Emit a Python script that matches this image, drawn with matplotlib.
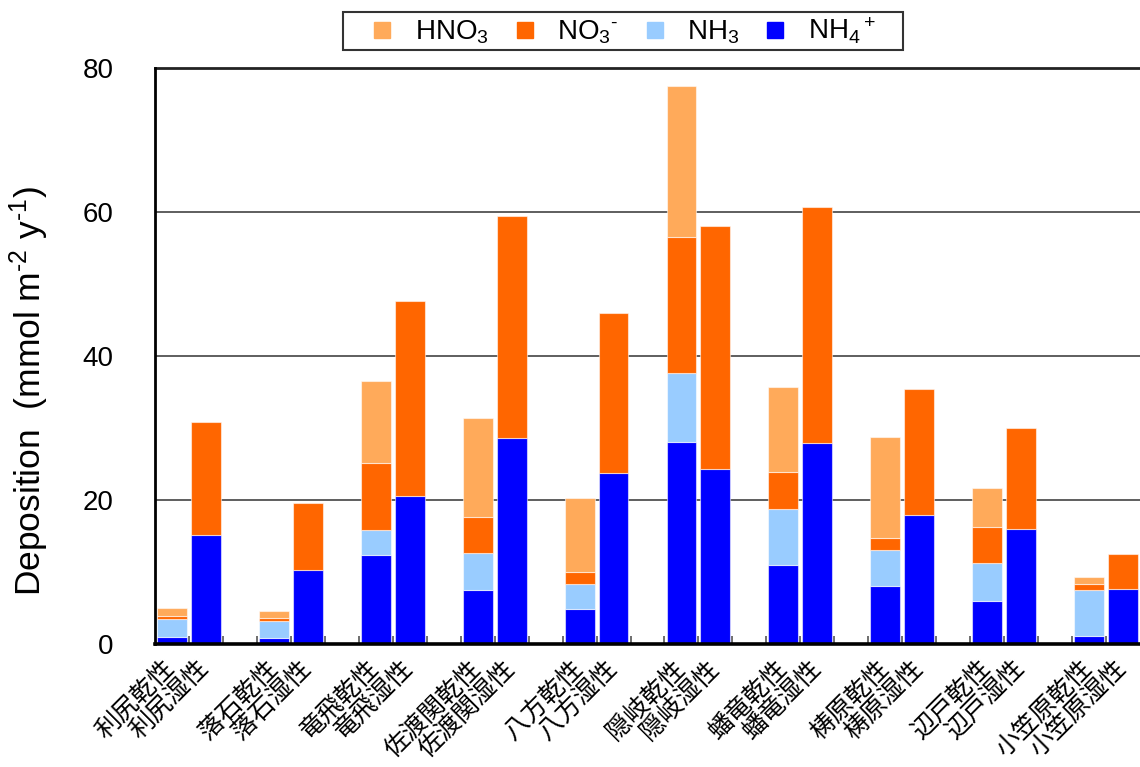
import numpy as np
import matplotlib
matplotlib.use("Agg")
import matplotlib.pyplot as plt
from matplotlib.lines import Line2D
from matplotlib.patches import Rectangle
from matplotlib.ticker import FixedLocator

plt.rcParams['font.family'] = ['Liberation Sans', 'DejaVu Sans']
plt.rcParams['mathtext.fontset'] = 'custom'
plt.rcParams['mathtext.rm'] = 'Liberation Sans'
plt.rcParams['mathtext.it'] = 'Liberation Sans:italic'
plt.rcParams['mathtext.bf'] = 'Liberation Sans:bold'

# Sites and annual deposition (mmol m-2 y-1)
sites = ['利尻', '落石', '竜飛', '佐渡関', '八方', '隠岐', '蟠竜', '梼原', '辺戸', '小笠原']

# dry deposition components
nh4_dry = [1.0, 0.9, 12.4, 7.45, 4.85, 28.0, 10.95, 8.1, 6.0, 1.15]
nh3_dry = [2.5, 2.35, 3.5, 5.15, 3.45, 9.6, 7.85, 4.95, 5.3, 6.35]
no3_dry = [0.4, 0.42, 9.25, 5.1, 1.65, 18.9, 5.05, 1.7, 4.9, 0.8]
hno3_dry = [1.1, 0.98, 11.35, 13.7, 10.35, 21.05, 11.85, 13.95, 5.4, 0.95]

# wet deposition components
nh4_wet = [15.1, 10.3, 20.5, 28.6, 23.7, 24.3, 27.85, 17.9, 16.0, 7.65]
no3_wet = [15.8, 9.3, 27.1, 30.8, 22.3, 33.7, 32.9, 17.5, 13.95, 4.8]

dry_suffix = '乾性'
wet_suffix = '湿性'

colors = {
    'HNO3': '#FFAA5A',
    'NO3': '#FF6600',
    'NH3': '#99CCFF',
    'NH4': '#0000FF',
}
legend_labels = {
    'HNO3': r'HNO$_3$',
    'NO3': r'NO$_3$$^{\text{-}}$',
    'NH3': r'NH$_3$',
    'NH4': r'NH$_4$$^+$',
}

W, H = 1140, 767
fig = plt.figure(figsize=(W / 100, H / 100), dpi=100)
ax = fig.add_axes([155 / W, 1 - 644 / H, 985 / W, (644 - 68) / H])

n = len(sites)
idx = np.arange(n)
x_dry = 3 * idx
x_wet = 3 * idx + 1
w = 0.88
edge = dict(edgecolor=(1, 1, 1, 0.55), linewidth=0.8, zorder=3)

# dry stacks: NH4, NH3, NO3, HNO3 from bottom
b = np.zeros(n)
for key, vals in [('NH4', nh4_dry), ('NH3', nh3_dry), ('NO3', no3_dry), ('HNO3', hno3_dry)]:
    v = np.array(vals)
    ax.bar(x_dry, v, w, bottom=b, color=colors[key], **edge)
    b = b + v

# wet stacks: NH4, NO3
b = np.zeros(n)
for key, vals in [('NH4', nh4_wet), ('NO3', no3_wet)]:
    v = np.array(vals)
    ax.bar(x_wet, v, w, bottom=b, color=colors[key], **edge)
    b = b + v

ax.set_xlim(-0.5, 3 * n - 1.5)
ax.set_ylim(0, 80)
ax.set_yticks([0, 20, 40, 60, 80])
ax.tick_params(axis='y', length=0, pad=30, labelsize=20)

# horizontal grid lines
for yv in [20, 40, 60]:
    ax.axhline(yv, color='#333333', lw=1.1, zorder=1)
ax.axhline(80, color='#222222', lw=2.0, zorder=1, clip_on=False)

# x tick labels per bar
xt = np.concatenate([x_dry, x_wet])
xl = [s + dry_suffix for s in sites] + [s + wet_suffix for s in sites]
ax.set_xticks(xt)
ax.set_xticklabels(xl, rotation=45, ha='right', va='center', rotation_mode='anchor',
                   fontsize=18, family=['Noto Sans CJK JP', 'DejaVu Sans'])
ax.tick_params(axis='x', length=0, pad=15)

# small inward ticks at slot boundaries
ax.xaxis.set_minor_locator(FixedLocator(np.arange(0.5, 3 * n - 1.5, 1.0)))
ax.tick_params(axis='x', which='minor', direction='in', length=6, width=1.2, color='#555555')

for side in ['top', 'right']:
    ax.spines[side].set_visible(False)
ax.spines['left'].set_linewidth(2.0)
ax.spines['bottom'].set_linewidth(2.6)
ax.spines['left'].set_zorder(4)
ax.spines['bottom'].set_zorder(4)

ax.set_ylabel(r'Deposition  (mmol m$^{\text{-2}}$ y$^{\text{-1}}$)', fontsize=25.5)
ax.yaxis.set_label_coords(-0.106, 0.44)

# legend: frameless entries inside a hand-drawn box
handles = [Line2D([], [], marker='s', linestyle='none', markersize=11,
                  markerfacecolor=colors[k], markeredgecolor=colors[k])
           for k in ['HNO3', 'NO3', 'NH3', 'NH4']]
labels = [legend_labels[k] for k in ['HNO3', 'NO3', 'NH3', 'NH4']]
fig.legend(handles, labels, loc='center', bbox_to_anchor=(622 / W, 1 - 31 / H),
           ncol=4, fontsize=20, frameon=False, handlelength=1.0,
           handletextpad=0.67, columnspacing=0.8, borderpad=0.0)
fig.patches.append(Rectangle((343 / W, 1 - 50 / H), 560 / W, 38 / H,
                             transform=fig.transFigure, fill=False,
                             edgecolor='#333333', linewidth=1.5))

fig.savefig('out.png', dpi=100)
